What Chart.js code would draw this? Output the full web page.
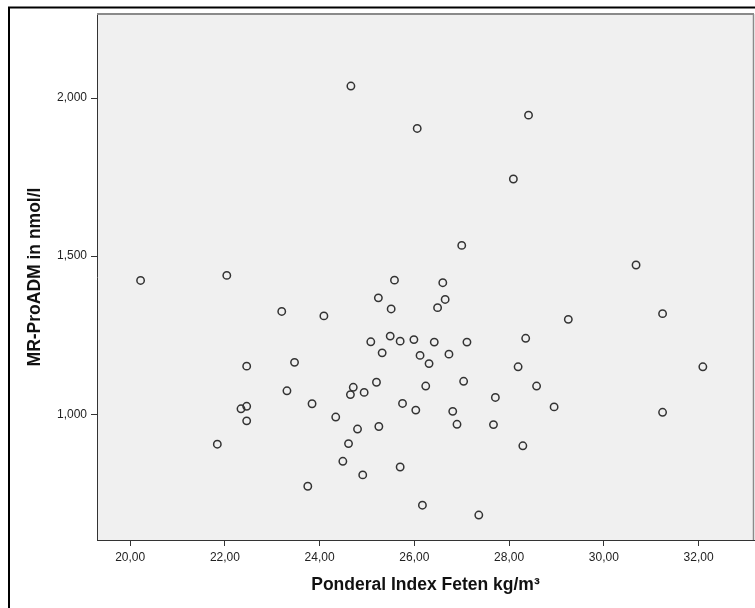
<!DOCTYPE html>
<html>
<head>
<meta charset="utf-8">
<script src="https://cdn.jsdelivr.net/npm/chart.js@4"></script>
<style>
  html, body { margin: 0; padding: 0; background: #ffffff; }
  #wrap { width: 755px; height: 608px; position: relative; }
</style>
</head>
<body>
<div id="wrap"><canvas id="c" width="755" height="608"></canvas></div>
<script>
// Ponderal Index Feten (kg/m³)
const ponderalIndex = [
  20.22, 22.04, 23.20, 24.09, 25.58, 25.24, 25.51, 25.08, 25.49, 25.70,
  25.99, 25.32, 26.12, 22.46, 23.47, 23.31, 24.71, 24.65, 24.94, 25.20,
  22.46, 22.34, 22.46, 21.84, 23.84, 24.34, 25.75, 26.03, 24.80, 25.25,
  24.61, 24.49, 24.91, 25.70, 23.75, 26.17, 28.09, 27.00, 30.68, 26.60,
  26.65, 26.49, 31.24, 29.25, 26.42, 27.11, 28.35, 26.31, 26.73, 28.19,
  32.09, 26.24, 27.04, 28.58, 27.71, 28.95, 31.24, 26.81, 26.90, 27.67,
  28.29, 27.36, 24.66, 26.06, 28.41
];
// MR-ProADM (nmol/l)
const mrProADM = [
  1.423, 1.439, 1.325, 1.311, 1.424, 1.368, 1.333, 1.229, 1.247, 1.231,
  1.236, 1.194, 1.186, 1.152, 1.164, 1.074, 1.085, 1.062, 1.069, 1.101,
  1.025, 1.017, 0.979, 0.905, 1.033, 0.991, 1.034, 1.013, 0.953, 0.961,
  0.907, 0.851, 0.808, 0.833, 0.772, 0.712, 1.744, 1.534, 1.472, 1.416,
  1.363, 1.337, 1.318, 1.300, 1.228, 1.228, 1.240, 1.160, 1.190, 1.150,
  1.150, 1.089, 1.104, 1.089, 1.053, 1.023, 1.006, 1.009, 0.968, 0.967,
  0.900, 0.681, 2.038, 1.904, 1.946
];
const xTickValues = [20, 22, 24, 26, 28, 30, 32];
const xTickLabels = ['20,00', '22,00', '24,00', '26,00', '28,00', '30,00', '32,00'];
const yTickValues = [1.0, 1.5, 2.0];
const yTickLabels = ['1,000', '1,500', '2,000'];
const xTitle = 'Ponderal Index Feten kg/m³';
const yTitle = 'MR-ProADM in nmol/l';

const points = ponderalIndex.map((x, i) => ({ x: x, y: mrProADM[i] }));

const framePlugin = {
  id: 'frame',
  beforeDraw(chart) {
    const ctx = chart.ctx;
    const a = chart.chartArea;
    ctx.save();
    ctx.fillStyle = '#ffffff';
    ctx.fillRect(0, 0, chart.width, chart.height);
    ctx.strokeStyle = '#000000';
    ctx.lineWidth = 2;
    ctx.beginPath();
    ctx.moveTo(9, chart.height + 5);
    ctx.lineTo(9, 7.5);
    ctx.lineTo(chart.width + 5, 7.5);
    ctx.stroke();
    ctx.fillStyle = '#f0f0f0';
    ctx.fillRect(a.left, a.top, a.right - a.left, a.bottom - a.top);
    ctx.restore();
  },
  afterDraw(chart) {
    const ctx = chart.ctx;
    const a = chart.chartArea;
    ctx.save();
    ctx.strokeStyle = '#8a8a8a';
    ctx.lineWidth = 2;
    ctx.beginPath();
    ctx.moveTo(a.left, a.top);
    ctx.lineTo(a.right, a.top);
    ctx.stroke();
    ctx.lineWidth = 1.5;
    ctx.beginPath();
    ctx.moveTo(a.right - 0.5, a.top);
    ctx.lineTo(a.right - 0.5, a.bottom);
    ctx.stroke();
    ctx.restore();
  }
};

new Chart(document.getElementById('c'), {
  type: 'scatter',
  data: {
    datasets: [{
      data: points,
      pointRadius: 3.7,
      pointHoverRadius: 3.7,
      pointBorderWidth: 1.5,
      pointBackgroundColor: 'rgba(0,0,0,0)',
      pointBorderColor: '#333333'
    }]
  },
  options: {
    responsive: false,
    animation: false,
    devicePixelRatio: 1,
    layout: { autoPadding: false, padding: { left: 8, top: 14, right: 1, bottom: 0 } },
    plugins: { legend: { display: false }, tooltip: { enabled: false } },
    scales: {
      x: {
        type: 'linear',
        min: 19.30,
        max: 33.17,
        afterBuildTicks(scale) { scale.ticks = xTickValues.map(v => ({ value: v })); },
        afterFit(scale) { scale.height = 68; scale.paddingRight = 0; scale.paddingLeft = 0; },
        ticks: {
          padding: 4,
          color: '#222222',
          font: { family: 'Liberation Sans', size: 12 },
          callback(v) { const i = xTickValues.indexOf(v); return i >= 0 ? xTickLabels[i] : ''; }
        },
        grid: { drawOnChartArea: false, drawTicks: true, tickLength: 6, color: '#333333', lineWidth: 1 },
        border: { display: true, color: '#333333', width: 1 },
        title: {
          display: true,
          text: xTitle,
          color: '#111111',
          font: { family: 'Liberation Sans', size: 17.5, weight: 'bold' },
          padding: { top: 0, bottom: 12 }
        }
      },
      y: {
        type: 'linear',
        min: 0.602,
        max: 2.266,
        afterBuildTicks(scale) { scale.ticks = yTickValues.map(v => ({ value: v })); },
        afterFit(scale) { scale.width = 89; scale.paddingTop = 0; scale.paddingBottom = 0; },
        ticks: {
          padding: 4,
          color: '#222222',
          font: { family: 'Liberation Sans', size: 12 },
          callback(v) { const i = yTickValues.findIndex(t => Math.abs(t - v) < 1e-9); return i >= 0 ? yTickLabels[i] : ''; }
        },
        grid: { drawOnChartArea: false, drawTicks: true, tickLength: 6, color: '#333333', lineWidth: 1 },
        border: { display: true, color: '#333333', width: 1 },
        title: {
          display: true,
          text: yTitle,
          color: '#111111',
          font: { family: 'Liberation Sans', size: 17.5, weight: 'bold' },
          padding: { top: 17, bottom: 0 }
        }
      }
    }
  },
  plugins: [framePlugin]
});
</script>
</body>
</html>
